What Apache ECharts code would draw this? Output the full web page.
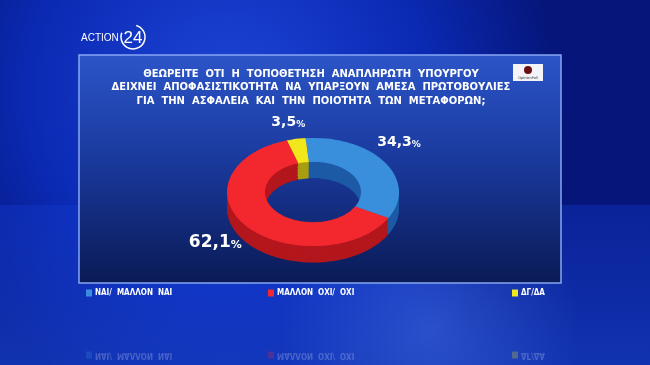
<!DOCTYPE html>
<html><head><meta charset="utf-8">
<script src="https://cdn.jsdelivr.net/npm/echarts@6/dist/echarts.min.js"></script>
<style>
html,body{margin:0;padding:0;width:650px;height:365px;overflow:hidden;background:#0a24a8;}
#a,#b{position:absolute;left:0;top:0;width:650px;height:365px;}
#b{transform-origin:313px 192px;transform:scaleY(0.63);pointer-events:none;}
</style></head>
<body><div id="a"></div><div id="b"></div>
<script>
const categories = ['ΝΑΙ/  ΜΑΛΛΟΝ  ΝΑΙ', 'ΜΑΛΛΟΝ  ΟΧΙ/  ΟΧΙ', 'ΔΓ/ΔΑ'];
const values = [34.3, 62.1, 3.5];
const titleLines = [
  'ΘΕΩΡΕΙΤΕ  ΟΤΙ  Η  ΤΟΠΟΘΕΤΗΣΗ  ΑΝΑΠΛΗΡΩΤΗ  ΥΠΟΥΡΓΟΥ',
  'ΔΕΙΧΝΕΙ  ΑΠΟΦΑΣΙΣΤΙΚΟΤΗΤΑ  ΝΑ  ΥΠΑΡΞΟΥΝ  ΑΜΕΣΑ  ΠΡΩΤΟΒΟΥΛΙΕΣ',
  'ΓΙΑ  ΤΗΝ  ΑΣΦΑΛΕΙΑ  ΚΑΙ  ΤΗΝ  ΠΟΙΟΤΗΤΑ  ΤΩΝ  ΜΕΤΑΦΟΡΩΝ;'
];

const topColors = ['#3a8fdc', '#f2282e', '#f2e61c'];
const sideColors = ['#1d5aa6', '#b3161c', '#a89e10'];
const legendLeft = [86, 268, 512];
const labelNudge = [[-17, 0], [4, -7], [15, 20]];
const labelSize = [14, 17, 14];
const CX = 313, CY = 192, R_IN = 48, R_OUT = 86;
const FONT = '"DejaVu Sans", sans-serif';
const FONT_C = '"DejaVu Sans Condensed", "DejaVu Sans", sans-serif';

const fmt = v => String(v).replace('.', ',');

// ---------- chart A: background, panel, texts, legend, labels ----------
const a = echarts.init(document.getElementById('a'), null, {renderer: 'canvas'});
a.setOption({
  animation: false,
  backgroundColor: {
    type: 'radial', x: 0.35, y: 0.25, r: 0.9,
    colorStops: [{offset: 0, color: '#1d44d6'}, {offset: 0.6, color: '#0b2ab4'}, {offset: 1, color: '#05157a'}]
  },
  graphic: [
    {type: 'rect', shape: {x: 0, y: 205, width: 650, height: 160}, silent: true,
     style: {fill: {type: 'linear', x: 0, y: 0, x2: 0, y2: 1,
       colorStops: [{offset: 0, color: 'rgba(20,60,210,0.35)'}, {offset: 1, color: 'rgba(30,80,230,0.5)'}]}}},
    {type: 'circle', shape: {cx: 430, cy: 330, r: 150}, silent: true,
     style: {fill: {type: 'radial', x: 0.5, y: 0.5, r: 0.5,
       colorStops: [{offset: 0, color: 'rgba(90,140,255,0.35)'}, {offset: 1, color: 'rgba(90,140,255,0)'}]}}},
    {type: 'rect', shape: {x: 79, y: 55, width: 482, height: 228}, silent: true,
     style: {fill: {type: 'linear', x: 0, y: 0, x2: 0, y2: 1,
       colorStops: [{offset: 0, color: '#2c55c8'}, {offset: 0.45, color: '#1a3a9e'}, {offset: 1, color: '#0a1a55'}]},
       stroke: '#86a6f2', lineWidth: 1.5}},
    // OpinionPoll logo
    {type: 'rect', shape: {x: 513, y: 64, width: 30, height: 17}, silent: true, style: {fill: '#f4f4f8'}},
    {type: 'circle', shape: {cx: 528, cy: 70, r: 4}, silent: true, style: {fill: '#6a1010'}},
    {type: 'text', x: 528, y: 78, silent: true,
     style: {text: 'OpinionPoll', font: '3.5px ' + FONT, fill: '#333', align: 'center', verticalAlign: 'middle'}},
    // ACTION 24 logo
    {type: 'text', x: 81, y: 38, silent: true,
     style: {text: 'ACTION', font: '10px "Liberation Sans", sans-serif', fill: '#ffffff', verticalAlign: 'middle'}},
    {type: 'text', x: 133, y: 38, silent: true,
     style: {text: '24', font: '17px "Liberation Sans", sans-serif', fill: '#ffffff', align: 'center', verticalAlign: 'middle'}},
    {type: 'arc', shape: {cx: 133, cy: 37, r: 12, startAngle: -1.3, endAngle: 3.5, clockwise: true}, silent: true,
     style: {stroke: '#ffffff', lineWidth: 1.5, fill: null}},
    // reflection of legend
    ...categories.map((c, i) => ({
      type: 'group', x: legendLeft[i], y: 355, scaleY: -1, silent: true,
      children: [
        {type: 'rect', shape: {x: 0, y: -3.5, width: 6, height: 7}, style: {fill: topColors[i], opacity: 0.25}},
        {type: 'text', x: 9, y: 0, style: {text: c, font: 'bold 8px ' + FONT_C, fill: 'rgba(255,255,255,0.22)', verticalAlign: 'middle'}}
      ]
    }))
  ],
  title: {
    text: titleLines.join('\n'),
    left: 306, top: 63, textAlign: 'center',
    textStyle: {color: '#ffffff', fontFamily: FONT, fontWeight: 'bold', fontSize: 10, lineHeight: 13.2}
  },
  legend: categories.map((c, i) => ({
    data: [{name: c, itemStyle: {color: topColors[i]}}],
    left: legendLeft[i], top: 289, itemWidth: 6, itemHeight: 7, itemGap: 4,
    icon: 'rect', selectedMode: false, padding: 0,
    textStyle: {color: '#ffffff', fontFamily: FONT_C, fontWeight: 'bold', fontSize: 8, padding: [0, 0, 0, -2]}
  })),
  series: [{
    type: 'pie', center: [CX, CY], radius: [R_IN, R_OUT], startAngle: 95, clockwise: true,
    silent: true,
    data: categories.map((c, i) => ({
      name: c, value: values[i], itemStyle: {color: 'rgba(0,0,0,0)'},
      label: {rich: {
        v: {color: '#ffffff', fontFamily: FONT, fontWeight: 'bold', fontSize: labelSize[i]},
        p: {color: '#ffffff', fontFamily: FONT, fontWeight: 'bold', fontSize: Math.round(labelSize[i] * 0.62), padding: [Math.round(labelSize[i] * 0.25), 0, 0, 0]}
      }}
    })),
    label: {
      show: true, position: 'outside',
      formatter: p => '{v|' + fmt(p.value) + '}{p|%}'
    },
    labelLine: {show: false, length: 5, length2: 0},
    labelLayout: p => ({dx: labelNudge[p.dataIndex][0], dy: labelNudge[p.dataIndex][1]})
  }]
});

// ---------- chart B: 3D-looking donut (vertically squashed) ----------
const b = echarts.init(document.getElementById('b'), null, {renderer: 'canvas'});
const sideOffsets = [26, 22, 18, 14, 10, 6, 3];
const pieBase = {
  type: 'pie', radius: [R_IN, R_OUT], startAngle: 95, clockwise: true, silent: true,
  label: {show: false}, labelLine: {show: false}
};
b.setOption({
  animation: false,
  backgroundColor: 'transparent',
  series: [
    ...sideOffsets.map(dy => Object.assign({}, pieBase, {
      center: [CX, CY + dy],
      data: categories.map((c, i) => ({name: c, value: values[i], itemStyle: {color: sideColors[i]}}))
    })),
    Object.assign({}, pieBase, {
      center: [CX, CY],
      data: categories.map((c, i) => ({name: c, value: values[i], itemStyle: {color: topColors[i]}}))
    })
  ]
});
</script>
</body></html>
